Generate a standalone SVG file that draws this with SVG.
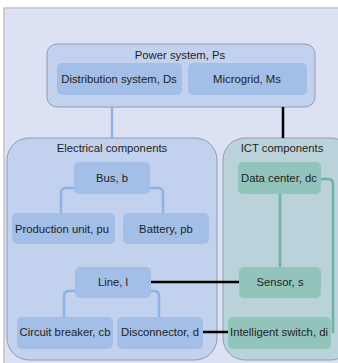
<svg xmlns="http://www.w3.org/2000/svg" width="338" height="363" viewBox="0 0 338 363">
<style>
text{font-family:"Liberation Sans",Arial,sans-serif;font-size:11.3px;fill:#1e1e1e;text-anchor:middle;dominant-baseline:central}
.grp{stroke:#8f9bb3;stroke-width:1}
.eb{fill:#c2d1ed}
.ib{fill:#a3bee7}
.tb{fill:#bad3da}
.tn{fill:#93c4bb}
.bl{fill:none;stroke:#8cb3e6;stroke-width:2.5}
.bk{fill:none;stroke:#000;stroke-width:2.5}
.tl{fill:none;stroke:#6cb3a4;stroke-width:2.5}
</style>
<rect x="4" y="8" width="340" height="362" fill="#dce2f3" stroke="#c4c4c4" stroke-width="1.5"/>
<g id="power-system">
<rect class="grp eb" x="47" y="44" width="268" height="63" rx="10"/>
<text x="180" y="55">Power system, Ps</text>
</g>
<g id="distribution-system">
<rect class="ib" x="57" y="63" width="125" height="32" rx="5"/>
<text x="119" y="79">Distribution system, Ds</text>
</g>
<g id="microgrid">
<rect class="ib" x="188" y="63" width="119" height="32" rx="5"/>
<text x="247" y="79">Microgrid, Ms</text>
</g>
<g id="electrical-components">
<rect class="grp eb" x="7" y="138" width="210" height="222" rx="22"/>
<text x="112" y="148">Electrical components</text>
</g>
<g id="ict-components">
<rect class="grp tb" x="223" y="138" width="130" height="222" rx="22"/>
<text x="282" y="148">ICT components</text>
</g>
<g id="connectors">
<path class="bl" d="M112,107 V138"/>
<path class="bk" d="M283,107 V138"/>
<path class="bl" d="M74,188 H66 Q61,188 61,193 V213"/>
<path class="bl" d="M150,188 H158 Q163,188 163,193 V213"/>
<path class="bl" d="M75,291 H69 Q64,291 64,296 V317"/>
<path class="bl" d="M151,291 H154 Q159,291 159,296 V317"/>
<path class="bk" d="M151,282 H239"/>
<path class="bk" d="M203,332 H228"/>
<path class="tl" d="M280,194 V267"/>
<path class="tl" d="M321,179 H328 Q333,179 333,184 V333"/>
</g>
<g id="bus">
<rect class="ib" x="74" y="162" width="76" height="32" rx="5"/>
<text x="112" y="178">Bus, b</text>
</g>
<g id="production-unit">
<rect class="ib" x="12" y="213" width="103" height="31" rx="5"/>
<text x="62" y="229">Production unit, pu</text>
</g>
<g id="battery">
<rect class="ib" x="123" y="213" width="86" height="31" rx="5"/>
<text x="166" y="229">Battery, pb</text>
</g>
<g id="line">
<rect class="ib" x="75" y="267" width="76" height="31" rx="5"/>
<text x="113" y="282">Line, l</text>
</g>
<g id="circuit-breaker">
<rect class="ib" x="17" y="317" width="96" height="32" rx="5"/>
<text x="65" y="332">Circuit breaker, cb</text>
</g>
<g id="disconnector">
<rect class="ib" x="117" y="317" width="86" height="32" rx="5"/>
<text x="160" y="332">Disconnector, d</text>
</g>
<g id="data-center">
<rect class="tn" x="238" y="162" width="83" height="32" rx="5"/>
<text x="279" y="178">Data center, dc</text>
</g>
<g id="sensor">
<rect class="tn" x="239" y="267" width="82" height="31" rx="5"/>
<text x="280" y="282">Sensor, s</text>
</g>
<g id="intelligent-switch">
<rect class="tn" x="228" y="317" width="103" height="32" rx="5"/>
<text x="279" y="332">Intelligent switch, di</text>
</g>
</svg>
